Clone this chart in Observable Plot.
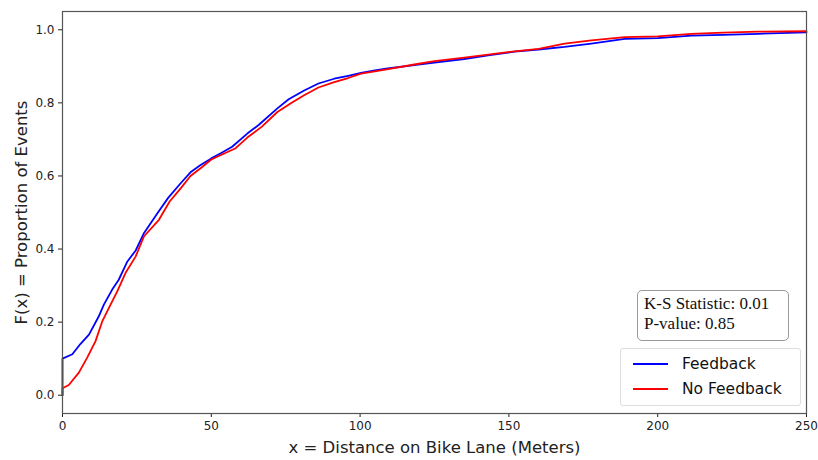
<!DOCTYPE html>
<html>
<head>
<meta charset="utf-8">
<script src="https://cdn.jsdelivr.net/npm/d3@7"></script>
<script src="https://cdn.jsdelivr.net/npm/@observablehq/plot@0.6"></script>
<style>
  html, body { margin: 0; padding: 0; background: #fff; }
  #wrap { position: relative; width: 818px; height: 460px; font-family: "DejaVu Sans", sans-serif; }
  .ks { position: absolute; left: 637px; top: 290px; width: 152px; height: 51px; box-sizing: border-box;
        border: 1px solid #999; border-radius: 5px; background: #fff;
        font-family: "Liberation Serif", "Times New Roman", serif; font-size: 17px; line-height: 19.5px; padding: 3px 0 0 6px; color: #111; }
  .leg { position: absolute; left: 620px; top: 348px; width: 181px; height: 58px; box-sizing: border-box;
         border: 1px solid #ddd; border-radius: 3px; background: #fff; font-size: 15.5px; color: #111; }
  .leg .row { position: absolute; left: 12px; height: 20px; display: flex; align-items: center; }
  .leg .sw { width: 35px; height: 0; border-top: 2px solid; margin-right: 14px; }
</style>
</head>
<body>
<div id="wrap"></div>
<script>
// Feedback ECDF (blue)
const feedbackX = [0, 0, 3.3, 6, 8.9, 12.2, 13.9, 16.7, 18.9, 21.8, 24.6, 27.4, 31.9, 35.5, 39.7, 43, 46.4, 50, 53.2, 57, 62.1, 66, 72.2, 76, 81.2, 86, 91.3, 96, 100.3, 105, 109.2, 118.2, 125, 135, 143, 151.9, 160, 168.7, 177.7, 188.9, 200, 211.3, 222, 233.7, 250];
const feedbackY = [0, 0.10, 0.112, 0.14, 0.166, 0.216, 0.248, 0.289, 0.316, 0.366, 0.396, 0.444, 0.498, 0.54, 0.58, 0.61, 0.63, 0.648, 0.662, 0.68, 0.716, 0.74, 0.785, 0.81, 0.834, 0.853, 0.866, 0.874, 0.882, 0.889, 0.894, 0.903, 0.91, 0.92, 0.93, 0.94, 0.946, 0.953, 0.962, 0.975, 0.977, 0.984, 0.986, 0.989, 0.993];
// No Feedback ECDF (red)
const noFeedbackX = [0, 0, 2.1, 5.5, 8.3, 11.1, 13.4, 15.6, 18.4, 21.2, 24.6, 27.4, 32.4, 36, 39.7, 43, 46.4, 50, 54, 58, 62.1, 67, 72.2, 77, 81.2, 86, 91.3, 96, 100.3, 107, 118.2, 125, 135, 143, 151.9, 160, 168.7, 177.7, 188.9, 200, 211.3, 222, 233.7, 250];
const noFeedbackY = [0, 0.019, 0.028, 0.062, 0.103, 0.148, 0.203, 0.239, 0.284, 0.335, 0.38, 0.435, 0.48, 0.53, 0.566, 0.6, 0.621, 0.645, 0.66, 0.675, 0.705, 0.735, 0.775, 0.8, 0.821, 0.842, 0.857, 0.868, 0.88, 0.889, 0.905, 0.914, 0.924, 0.932, 0.941, 0.948, 0.962, 0.971, 0.98, 0.982, 0.989, 0.992, 0.995, 0.996];

const xTicks = [0, 50, 100, 150, 200, 250];
const yTicks = [0, 0.2, 0.4, 0.6, 0.8, 1.0];
const seriesNames = ["Feedback", "No Feedback"];
const seriesColors = ["#0000ff", "#ff0000"];
const ksText = ["K-S Statistic: 0.01", "P-value: 0.85"];
const xLabel = "x = Distance on Bike Lane (Meters)";
const yLabel = "F(x) = Proportion of Events";

const fb = feedbackX.map((x, i) => ({x, y: feedbackY[i]}));
const nfb = noFeedbackX.map((x, i) => ({x, y: noFeedbackY[i]}));

const chart = Plot.plot({
  width: 818,
  height: 460,
  marginLeft: 62,
  marginRight: 12,
  marginTop: 11,
  marginBottom: 47,
  style: {fontFamily: "DejaVu Sans, sans-serif", fontSize: "11px", color: "#222", background: "#fff"},
  x: {domain: [0, 250]},
  y: {domain: [-0.05, 1.05]},
  marks: [
    Plot.axisX({ticks: xTicks, tickSize: 4, tickPadding: 4, fontSize: 12, label: xLabel, labelAnchor: "center", labelArrow: "none", labelOffset: 39}),
    Plot.axisY({ticks: yTicks, tickSize: 4, tickPadding: 4, fontSize: 12, tickFormat: d3.format(".1f"), label: yLabel, labelAnchor: "center", labelArrow: "none", labelOffset: 47}),
    Plot.line(fb, {x: "x", y: "y", stroke: seriesColors[0], strokeWidth: 1.8}),
    Plot.line(nfb, {x: "x", y: "y", stroke: seriesColors[1], strokeWidth: 1.8}),
    Plot.frame({stroke: "#555", strokeWidth: 1.2})
  ]
});
// enlarge axis label fonts
chart.querySelectorAll("[aria-label='x-axis label'] text, [aria-label='y-axis label'] text").forEach(t => t.setAttribute("font-size", "16.5px"));

const wrap = document.getElementById("wrap");
wrap.appendChild(chart);

const ks = document.createElement("div");
ks.className = "ks";
ks.innerHTML = ksText.join("<br>");
wrap.appendChild(ks);

const leg = document.createElement("div");
leg.className = "leg";
seriesNames.forEach((name, i) => {
  const row = document.createElement("div");
  row.className = "row";
  row.style.top = (5 + i * 25) + "px";
  const sw = document.createElement("div");
  sw.className = "sw";
  sw.style.borderColor = seriesColors[i];
  row.appendChild(sw);
  const tx = document.createElement("span");
  tx.textContent = name;
  row.appendChild(tx);
  leg.appendChild(row);
});
wrap.appendChild(leg);
</script>
</body>
</html>
